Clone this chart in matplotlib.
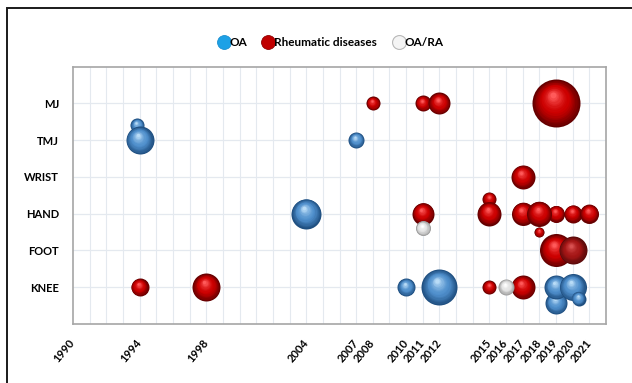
import numpy as np
import matplotlib
matplotlib.use("Agg")
import matplotlib.pyplot as plt
from matplotlib.lines import Line2D
from matplotlib.patches import Rectangle
from matplotlib.transforms import offset_copy
from matplotlib.colors import to_rgb

# joint categories (bottom to top)
joints = ["KNEE", "FOOT", "HAND", "WRIST", "TMJ", "MJ"]
year_labels = [1990, 1994, 1998, 2004, 2007, 2008, 2010, 2011, 2012,
               2015, 2016, 2017, 2018, 2019, 2020, 2021]

# bubbles: year, joint position (1=KNEE ... 6=MJ), bubble radius (px)
oa_year = [1993.85, 1994, 2007, 2004, 2010, 2012, 2019, 2019, 2020, 2020.35]
oa_pos = [5.4, 5.0, 5.0, 3.0, 1.0, 1.0, 0.57, 1.0, 1.0, 0.69]
oa_size = [7, 14, 8, 15, 9, 18, 11, 12, 13.5, 7]

rd_year = [2008, 2011, 2012, 2019,
           2017,
           2011, 2015, 2015, 2017, 2019, 2020, 2021, 2018, 2018,
           2019, 2020,
           1994, 1998, 2015, 2017]
rd_pos = [6, 6, 6, 6,
          4,
          3, 3.4, 3, 3, 3, 3, 3, 2.5, 3,
          2, 2,
          1, 1, 1, 1]
rd_size = [7, 8, 11, 24,
           12,
           11, 7, 12, 11.5, 8.5, 9, 9.5, 5, 12.5,
           16.5, 14,
           9, 14, 7, 12]
rd_dark = [False, False, False, False,
           False,
           False, False, False, False, False, False, False, False, False,
           False, True,
           False, False, False, False]

mix_year = [2011, 2016]
mix_pos = [2.6, 1.0]
mix_size = [7.5, 8]

DPI = 100
fig = plt.figure(figsize=(6.32, 3.83), dpi=DPI, facecolor="white")
ax = fig.add_axes([0.1155, 0.154, 0.8434, 0.672])
ax.set_xlim(1990, 2022)
ax.set_ylim(0, 7)

# outer frame of the picture
fig.patches.append(Rectangle((6.5 / 632, -0.1), 1.2, 1 - 8 / 383 + 0.1,
                             transform=fig.transFigure, fill=False,
                             edgecolor="#1a1a1a", lw=1.4, zorder=0))

for yr in range(1991, 2022):
    ax.axvline(yr, color="#e4e9ef", lw=0.8, zorder=0)
for p in range(1, 7):
    ax.axhline(p, color="#e4e9ef", lw=0.9, zorder=0)

for s in ax.spines.values():
    s.set_color("#a6a6a6")
    s.set_linewidth(1.2)


def mix(c1, c2, t):
    a = np.array(to_rgb(c1))
    b = np.array(to_rgb(c2))
    return tuple(a + (b - a) * t)


def bubble(x, y, r, edge, mid, hi, z):
    n = 16
    for i in range(n):
        t = i / (n - 1)
        ri = r * (1 - 0.88 * t)
        shift = (r - ri) * 0.5
        dx, dy = -0.3 * shift, 0.8 * shift
        if t < 0.45:
            col = mix(edge, mid, t / 0.45)
        else:
            col = mix(mid, hi, ((t - 0.45) / 0.55) ** 1.6)
        tr = offset_copy(ax.transData, fig=fig, x=dx, y=dy, units="dots")
        d = 2 * ri * 72 / DPI
        ax.scatter([x], [y], s=d ** 2, color=col, transform=tr,
                   linewidths=0, zorder=z + i * 0.001)


z = 3
for x, y, r in zip(oa_year, oa_pos, oa_size):
    bubble(x, y, r, "#1f4f80", "#4f8fcc", "#b9dcf7", z)
    z += 0.1
for x, y, r, dk in zip(rd_year, rd_pos, rd_size, rd_dark):
    if dk:
        bubble(x, y, r, "#5a0a0a", "#a51616", "#d85050", z)
    else:
        bubble(x, y, r, "#640000", "#cc0000", "#ff5a5a", z)
    z += 0.1
for x, y, r in zip(mix_year, mix_pos, mix_size):
    bubble(x, y, r, "#9a9a9a", "#e2e2e2", "#ffffff", z)
    z += 0.1

ax.set_yticks(range(1, 7))
ax.set_yticklabels(joints, fontsize=8, fontweight="bold", family="Lato")
ax.set_xticks(year_labels)
ax.set_xticklabels([str(y) for y in year_labels], rotation=50, ha="right",
                   va="center", rotation_mode="anchor", fontsize=8,
                   fontweight="bold", family="Lato")
ax.tick_params(axis="both", length=0)
ax.tick_params(axis="x", pad=12)
ax.tick_params(axis="y", pad=10)

handles = [
    Line2D([], [], marker="o", ls="", markersize=10, markerfacecolor="#1da1e6",
           markeredgecolor="#1a8fd0", markeredgewidth=0.6),
    Line2D([], [], marker="o", ls="", markersize=10, markerfacecolor="#c00000",
           markeredgecolor="#900000", markeredgewidth=0.6),
    Line2D([], [], marker="o", ls="", markersize=10, markerfacecolor="#f4f4f4",
           markeredgecolor="#b8b8b8", markeredgewidth=0.8),
]
fig.legend(handles, ["OA", "Rheumatic diseases", "OA/RA"], ncol=3,
           loc="center", bbox_to_anchor=(0.523, 0.888), frameon=False,
           handletextpad=0.0, columnspacing=1.3, handlelength=1.0,
           prop={"family": "Lato", "weight": "bold", "size": 8.5})

fig.savefig("out.png", dpi=DPI)
